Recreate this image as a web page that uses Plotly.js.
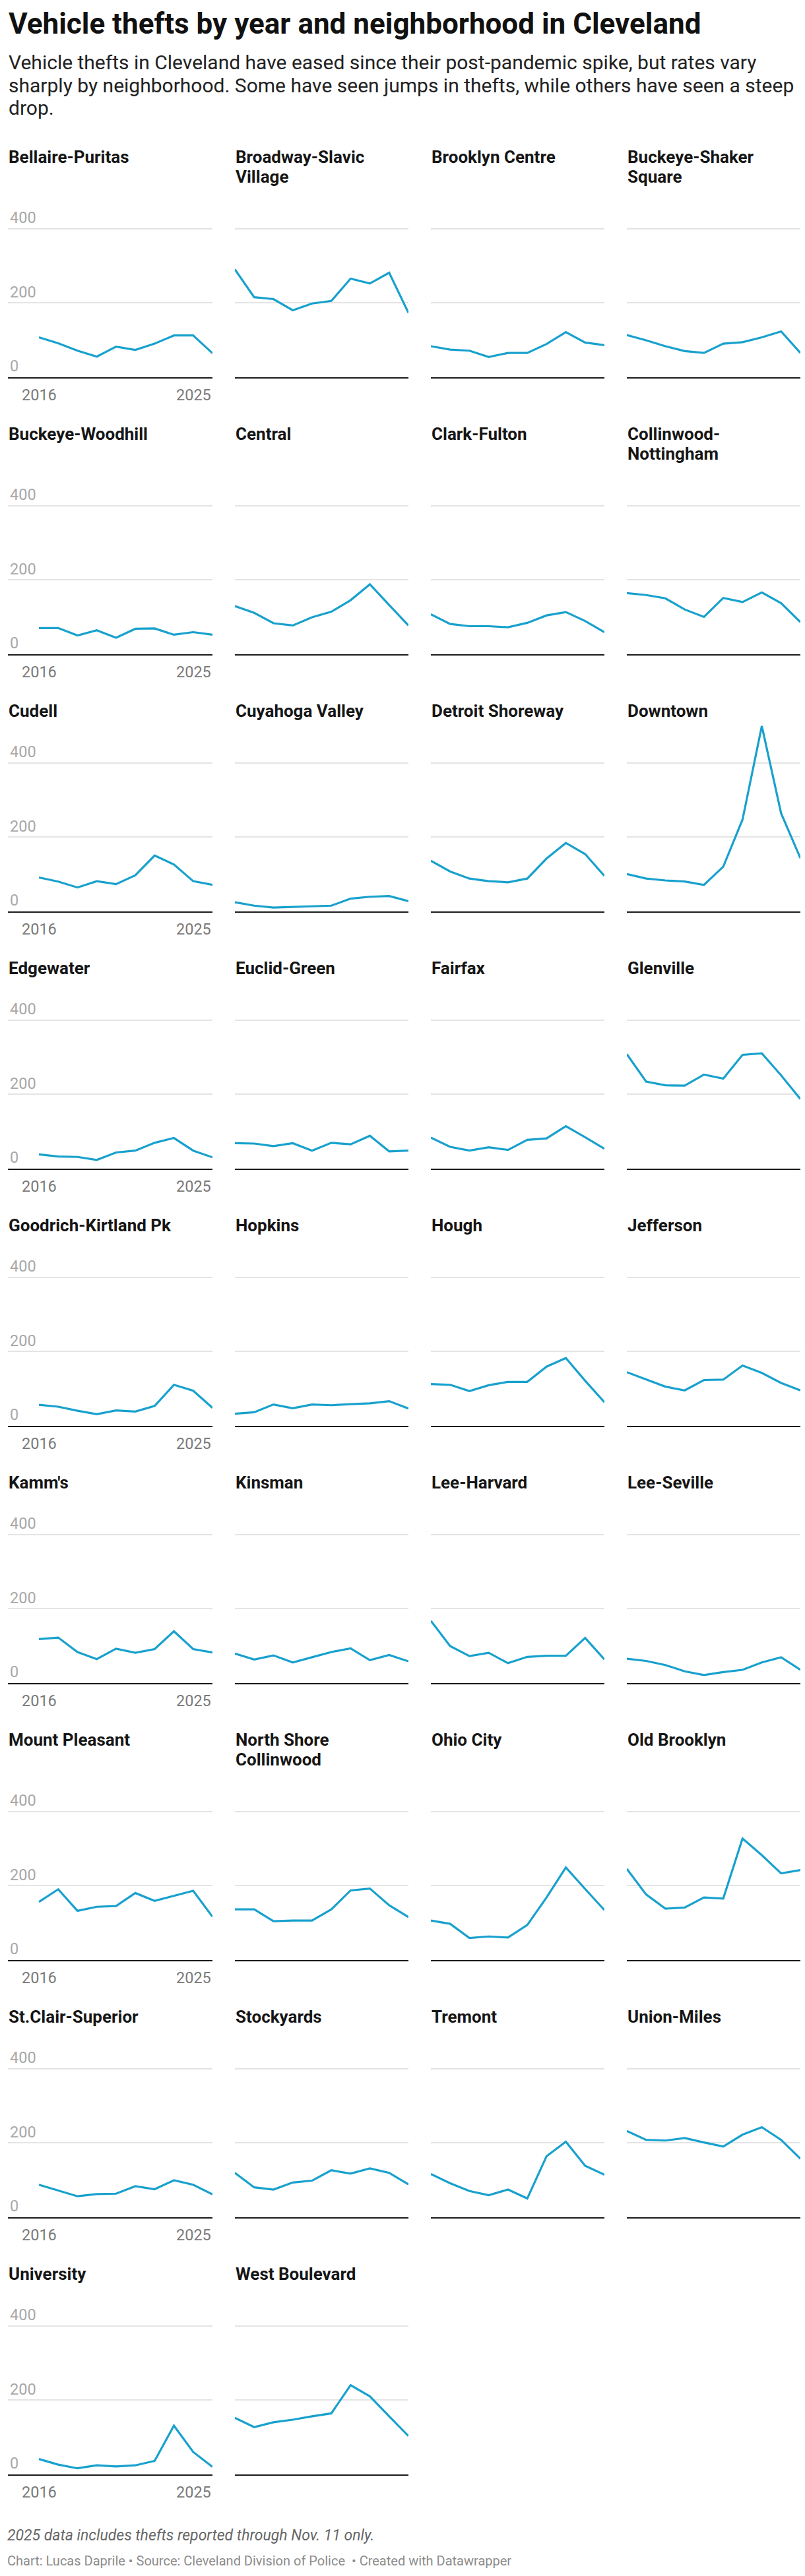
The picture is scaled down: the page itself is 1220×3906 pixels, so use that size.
<!DOCTYPE html>
<html>
<head>
<meta charset="utf-8">
<script src="https://cdn.plot.ly/plotly-3.0.1.min.js"></script>
<style>
html,body{margin:0;padding:0;background:#ffffff;}
#chart{width:1220px;height:3906px;}
</style>
</head>
<body>
<div id="chart"></div>
<script>
// ---------------- DATA ----------------
const years = [2016, 2017, 2018, 2019, 2020, 2021, 2022, 2023, 2024, 2025];
const xTickValues = [2016, 2025];
const xTickLabels = ['2016', '2025'];
const yTickValues = [0, 200, 400];
const yTickLabels = ['0', '200', '400'];

const neighborhoods = [
  'Bellaire-Puritas', 'Broadway-Slavic Village', 'Brooklyn Centre', 'Buckeye-Shaker Square',
  'Buckeye-Woodhill', 'Central', 'Clark-Fulton', 'Collinwood-Nottingham',
  'Cudell', 'Cuyahoga Valley', 'Detroit Shoreway', 'Downtown',
  'Edgewater', 'Euclid-Green', 'Fairfax', 'Glenville',
  'Goodrich-Kirtland Pk', 'Hopkins', 'Hough', 'Jefferson',
  "Kamm's", 'Kinsman', 'Lee-Harvard', 'Lee-Seville',
  'Mount Pleasant', 'North Shore Collinwood', 'Ohio City', 'Old Brooklyn',
  'St.Clair-Superior', 'Stockyards', 'Tremont', 'Union-Miles',
  'University', 'West Boulevard'
];
// panel titles as drawn (line breaks where the reference wraps)
const panelTitleLines = [
  ['Bellaire-Puritas'], ['Broadway-Slavic', 'Village'], ['Brooklyn Centre'], ['Buckeye-Shaker', 'Square'],
  ['Buckeye-Woodhill'], ['Central'], ['Clark-Fulton'], ['Collinwood-', 'Nottingham'],
  ['Cudell'], ['Cuyahoga Valley'], ['Detroit Shoreway'], ['Downtown'],
  ['Edgewater'], ['Euclid-Green'], ['Fairfax'], ['Glenville'],
  ['Goodrich-Kirtland Pk'], ['Hopkins'], ['Hough'], ['Jefferson'],
  ["Kamm's"], ['Kinsman'], ['Lee-Harvard'], ['Lee-Seville'],
  ['Mount Pleasant'], ['North Shore', 'Collinwood'], ['Ohio City'], ['Old Brooklyn'],
  ['St.Clair-Superior'], ['Stockyards'], ['Tremont'], ['Union-Miles'],
  ['University'], ['West Boulevard']
];

const bellairePuritas      = [107, 91, 71, 55, 82, 73, 90, 112, 112, 64];
const broadwaySlavic       = [290, 215, 210, 180, 198, 205, 265, 252, 281, 173];
const brooklynCentre       = [83, 74, 71, 54, 65, 65, 89, 121, 93, 86];
const buckeyeShaker        = [113, 99, 83, 70, 65, 90, 94, 107, 123, 65];
const buckeyeWoodhill      = [70, 70, 50, 64, 44, 68, 69, 52, 59, 52];
const central              = [129, 111, 83, 77, 99, 114, 145, 188, 132, 77];
const clarkFulton          = [107, 81, 75, 75, 72, 84, 104, 113, 89, 59];
const collinwoodNotts      = [164, 159, 150, 120, 100, 151, 140, 166, 137, 86];
const cudell               = [91, 80, 64, 81, 73, 97, 150, 126, 81, 71];
const cuyahogaValley       = [24, 15, 10, 12, 13, 15, 34, 39, 41, 27];
const detroitShoreway      = [136, 107, 88, 81, 78, 88, 142, 184, 154, 95];
const downtown             = [100, 88, 83, 80, 71, 120, 247, 499, 264, 143];
const edgewater            = [38, 32, 31, 23, 43, 48, 69, 82, 48, 30];
const euclidGreen          = [68, 67, 60, 68, 48, 69, 65, 88, 46, 48];
const fairfax              = [83, 58, 48, 57, 50, 77, 81, 114, 84, 53];
const glenville            = [308, 234, 224, 223, 253, 242, 306, 310, 251, 187];
const goodrichKirtland     = [56, 51, 40, 31, 41, 38, 53, 110, 94, 48];
const hopkins              = [32, 36, 57, 47, 57, 55, 58, 60, 66, 46];
const hough                = [112, 110, 93, 109, 118, 118, 159, 182, 121, 63];
const jefferson            = [144, 124, 105, 95, 123, 124, 162, 142, 115, 95];
const kamms                = [118, 122, 83, 64, 92, 81, 91, 139, 91, 82];
const kinsman              = [79, 63, 74, 55, 69, 83, 93, 61, 75, 58];
const leeHarvard           = [167, 99, 72, 81, 53, 70, 73, 73, 121, 63];
const leeSeville           = [65, 59, 48, 31, 21, 29, 35, 55, 69, 35];
const mountPleasant        = [156, 190, 132, 143, 145, 180, 159, 173, 186, 116];
const northShoreCollinwood = [136, 136, 104, 106, 106, 136, 187, 192, 147, 115];
const ohioCity             = [106, 97, 59, 63, 60, 94, 168, 249, 191, 134];
const oldBrooklyn          = [245, 176, 138, 141, 168, 165, 327, 282, 233, 242];
const stClairSuperior      = [87, 71, 56, 62, 63, 83, 75, 99, 87, 61];
const stockyards           = [119, 80, 74, 93, 98, 126, 117, 131, 119, 88];
const tremont              = [116, 91, 70, 59, 74, 50, 164, 203, 138, 114];
const unionMiles           = [232, 208, 206, 213, 201, 190, 222, 242, 208, 157];
const university           = [41, 26, 16, 24, 21, 24, 36, 131, 60, 20];
const westBoulevard        = [152, 127, 140, 147, 156, 164, 240, 210, 156, 103];

const seriesList = [
  bellairePuritas, broadwaySlavic, brooklynCentre, buckeyeShaker,
  buckeyeWoodhill, central, clarkFulton, collinwoodNotts,
  cudell, cuyahogaValley, detroitShoreway, downtown,
  edgewater, euclidGreen, fairfax, glenville,
  goodrichKirtland, hopkins, hough, jefferson,
  kamms, kinsman, leeHarvard, leeSeville,
  mountPleasant, northShoreCollinwood, ohioCity, oldBrooklyn,
  stClairSuperior, stockyards, tremont, unionMiles,
  university, westBoulevard
];

const chartTitle = 'Vehicle thefts by year and neighborhood in Cleveland';
const subtitleLines = [
  'Vehicle thefts in Cleveland have eased since their post-pandemic spike, but rates vary',
  'sharply by neighborhood. Some have seen jumps in thefts, while others have seen a steep',
  'drop.'
];
const noteText = '2025 data includes thefts reported through Nov. 11 only.';
const creditText = 'Chart: Lucas Daprile • Source: Cleveland Division of Police&nbsp; • Created with Datawrapper';

// ---------------- LAYOUT ----------------
const W = 1220, H = 3906;
const COLS = 4;
const nRows = Math.ceil(seriesList.length / COLS);
const LINE_COLOR = '#18a1cd';
const FONT = 'Roboto, "Noto Sans", sans-serif';

const twoLineRow = [];
for (let r = 0; r < nRows; r++) {
  let two = false;
  for (let c = 0; c < COLS; c++) {
    const t = panelTitleLines[r * COLS + c];
    if (t && t.length > 1) two = true;
  }
  twoLineRow.push(two);
}
const baselines = [];
for (let r = 0; r < nRows; r++) {
  if (r === 0) baselines.push(571.7);
  else baselines.push(baselines[r - 1] + 390 + (twoLineRow[r] ? 30 : 0));
}

const DATA_W = 263;
const PX_PER_YEAR = DATA_W / 9;
const PLOT_H = 287;
const Y_MAX = 510;
const colStart = [59, 356, 653, 950];
const LABEL_PAD = 47;

const TITLE_F = 26;
const ASC = 0.93;

function topFromBaseline(b, f) { return b - ASC * f - 1; }

const traces = [];
const layout = {
  width: W, height: H,
  margin: {l: 0, r: 0, t: 0, b: 0, pad: 0},
  paper_bgcolor: '#ffffff', plot_bgcolor: '#ffffff',
  showlegend: false,
  hovermode: false,
  font: {family: FONT},
  annotations: []
};

function addText(xPx, baselinePx, text, font, anchor) {
  layout.annotations.push({
    xref: 'paper', yref: 'paper',
    x: xPx / W, xanchor: anchor || 'left',
    y: 1 - topFromBaseline(baselinePx, font.size) / H, yanchor: 'top',
    text: text, align: 'left', showarrow: false, font: font
  });
}

// title
addText(11, 50, chartTitle, {family: FONT, size: 44, weight: 700, color: '#111111'});
// subtitle
subtitleLines.forEach((t, k) => {
  addText(11, 104 + k * 34.5, t, {family: FONT, size: 30, weight: 400, color: '#222222'});
});

seriesList.forEach((vals, i) => {
  const r = Math.floor(i / COLS), c = i % COLS;
  const n = i + 1;
  const xa = n === 1 ? 'xaxis' : 'xaxis' + n;
  const ya = n === 1 ? 'yaxis' : 'yaxis' + n;
  const xr = n === 1 ? 'x' : 'x' + n;
  const yr = n === 1 ? 'y' : 'y' + n;

  const x0 = c === 0 ? colStart[0] - LABEL_PAD : colStart[c];
  const x1 = colStart[c] + DATA_W;
  const xmin = c === 0 ? 2016 - LABEL_PAD / PX_PER_YEAR : 2016;
  const base = baselines[r];
  const top = base - PLOT_H;

  traces.push({
    type: 'scatter', mode: 'lines',
    x: years, y: vals,
    xaxis: xr, yaxis: yr,
    line: {color: LINE_COLOR, width: 3.2},
    name: neighborhoods[i],
    hoverinfo: 'skip'
  });

  layout[xa] = {
    domain: [x0 / W, x1 / W],
    range: [xmin, 2025],
    anchor: yr,
    showgrid: false, zeroline: false,
    showline: true, linecolor: '#1a1a1a', linewidth: 2.5,
    ticks: '', showticklabels: false,
    fixedrange: true, automargin: false
  };
  layout[ya] = {
    domain: [1 - base / H, 1 - top / H],
    range: [0, Y_MAX],
    anchor: xr,
    tickmode: 'array', tickvals: yTickValues, ticktext: yTickLabels,
    showgrid: true, gridcolor: '#e4e4e4', gridwidth: 2,
    zeroline: false, showline: false, ticks: '',
    showticklabels: c === 0,
    ticklabelposition: 'inside top',
    tickfont: {family: FONT, size: 23.5, color: '#a8a8a8'},
    fixedrange: true, automargin: false
  };

  // panel title lines
  const firstBaseline = base - 296 - (twoLineRow[r] ? 30 : 0);
  panelTitleLines[i].forEach((line, k) => {
    addText(x0 - 1, firstBaseline + k * 30, line,
      {family: FONT, size: TITLE_F, weight: 700, color: '#161616'});
  });

  // year labels on the first column, placed on the panel's own x scale
  if (c === 0) {
    xTickValues.forEach((yv, k) => {
      layout.annotations.push({
        xref: xr, yref: yr + ' domain',
        x: yv, xanchor: k === 0 ? 'center' : 'right',
        y: 0, yanchor: 'top', yshift: -11.5,
        text: xTickLabels[k], showarrow: false,
        font: {family: FONT, size: 23.5, weight: 400, color: '#7a7a7a'}
      });
    });
  }
});

// notes
addText(9, 3851.7, '<i>' + noteText + '</i>', {family: FONT, size: 23, weight: 400, color: '#666666'});
addText(9, 3889, creditText, {family: FONT, size: 20, weight: 400, color: '#8c8c8c'});

Plotly.newPlot('chart', traces, layout, {displayModeBar: false, staticPlot: true});
</script>
</body>
</html>
